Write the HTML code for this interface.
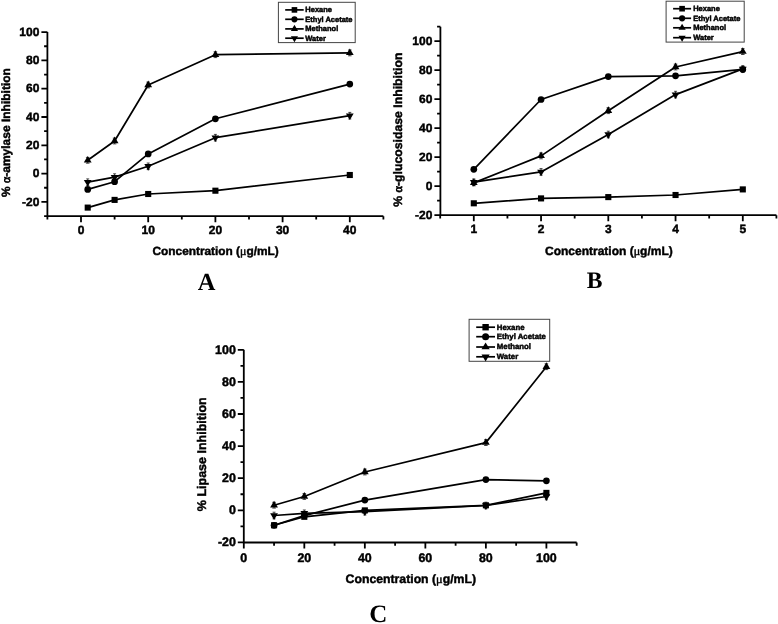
<!DOCTYPE html>
<html lang="en"><head><meta charset="utf-8"><title>Enzyme inhibition</title>
<style>
html,body{margin:0;padding:0;background:#fff}
svg{display:block}
text{font-family:"Liberation Sans",Arial,sans-serif;font-weight:bold;fill:#000;stroke:#000;stroke-width:.45px;text-rendering:geometricPrecision}
.tk{font-size:12px}
.al{font-size:12px}
.lg{font-size:7px}
.sym{font-family:"Liberation Serif","DejaVu Serif",serif;font-weight:normal}
.sa{stroke-width:.7px}
.sym.mu{stroke-width:.45px}
.lt{font-family:"Liberation Serif",serif;font-weight:bold;font-size:23.5px;stroke:none}
</style></head><body>
<svg width="778" height="624" viewBox="0 0 778 624">
<rect width="778" height="624" fill="#fff"/>
<path d="M47.4 32.1V216.2H383.4" fill="none" stroke="#000" stroke-width="1.8" stroke-linejoin="miter"/>
<path d="M47.4 216.05h-3.3M47.4 201.9h-6.0M47.4 187.75h-3.3M47.4 173.6h-6.0M47.4 159.45h-3.3M47.4 145.3h-6.0M47.4 131.15h-3.3M47.4 117h-6.0M47.4 102.85h-3.3M47.4 88.7h-6.0M47.4 74.55h-3.3M47.4 60.4h-6.0M47.4 46.25h-3.3M47.4 32.1h-6.0M47.4 216.2v3.3M81 216.2v6.0M114.6 216.2v3.3M148.2 216.2v6.0M181.8 216.2v3.3M215.4 216.2v6.0M249 216.2v3.3M282.6 216.2v6.0M316.2 216.2v3.3M349.8 216.2v6.0M383.4 216.2v3.3" fill="none" stroke="#000" stroke-width="1.8"/>
<g class="tk" text-anchor="end" style="font-size:12px">
<text x="39.4" y="205.6">-20</text>
<text x="39.4" y="177.3">0</text>
<text x="39.4" y="149">20</text>
<text x="39.4" y="120.7">40</text>
<text x="39.4" y="92.4">60</text>
<text x="39.4" y="64.1">80</text>
<text x="39.4" y="35.8">100</text>
</g><g class="tk" text-anchor="middle" style="font-size:12px">
<text x="81" y="234">0</text>
<text x="148.2" y="234">10</text>
<text x="215.4" y="234">20</text>
<text x="282.6" y="234">30</text>
<text x="349.8" y="234">40</text>
</g>
<path d="M87.72 207.6L114.6 199.9L148.2 194L215.4 190.7L349.8 175" fill="none" stroke="#000" stroke-width="1.7" stroke-linejoin="round"/>
<g><rect x="84.67" y="204.55" width="6.1" height="6.1"/><rect x="111.55" y="196.85" width="6.1" height="6.1"/><rect x="145.15" y="190.95" width="6.1" height="6.1"/><rect x="212.35" y="187.65" width="6.1" height="6.1"/><rect x="346.75" y="171.95" width="6.1" height="6.1"/></g>
<path d="M87.72 189.4L114.6 181.7L148.2 153.9L215.4 118.8L349.8 84.1" fill="none" stroke="#000" stroke-width="1.7" stroke-linejoin="round"/>
<g><circle cx="87.72" cy="189.4" r="3.35"/><circle cx="114.6" cy="181.7" r="3.35"/><circle cx="148.2" cy="153.9" r="3.35"/><circle cx="215.4" cy="118.8" r="3.35"/><circle cx="349.8" cy="84.1" r="3.35"/></g>
<path d="M87.72 160.3L114.6 141L148.2 85L215.4 54.7L349.8 52.9" fill="none" stroke="#000" stroke-width="1.7" stroke-linejoin="round"/>
<g><polygon points="83.82,162.5 91.62,162.5 87.72,155.9"/><polygon points="110.7,143.2 118.5,143.2 114.6,136.6"/><polygon points="144.3,87.2 152.1,87.2 148.2,80.6"/><polygon points="211.5,56.9 219.3,56.9 215.4,50.3"/><polygon points="345.9,55.1 353.7,55.1 349.8,48.5"/></g>
<path d="M87.72 157.4V163.2M85.92 157.4h3.6M85.92 163.2h3.6M114.6 138.1V143.9M112.8 138.1h3.6M112.8 143.9h3.6M148.2 82.1V87.9M146.4 82.1h3.6M146.4 87.9h3.6M215.4 51.8V57.6M213.6 51.8h3.6M213.6 57.6h3.6M349.8 50V55.8M348 50h3.6M348 55.8h3.6" fill="none" stroke="#000" stroke-width="0.7"/>
<path d="M87.72 182.2L114.6 177.1L148.2 166.3L215.4 137.7L349.8 115.7" fill="none" stroke="#000" stroke-width="1.7" stroke-linejoin="round"/>
<g><polygon points="83.82,180 91.62,180 87.72,186.6"/><polygon points="110.7,174.9 118.5,174.9 114.6,181.5"/><polygon points="144.3,164.1 152.1,164.1 148.2,170.7"/><polygon points="211.5,135.5 219.3,135.5 215.4,142.1"/><polygon points="345.9,113.5 353.7,113.5 349.8,120.1"/></g>
<path d="M87.72 178.9V185.5M86.22 178.9h3M86.22 185.5h3M114.6 173.8V180.4M113.1 173.8h3M113.1 180.4h3M148.2 163V169.6M146.7 163h3M146.7 169.6h3M215.4 134.4V141M213.9 134.4h3M213.9 141h3M349.8 112.4V119M348.3 112.4h3M348.3 119h3" fill="none" stroke="#000" stroke-width="0.7"/>
<rect x="278.4" y="2.3" width="76.8" height="40.3" fill="#fff" stroke="#444" stroke-width="1"/>
<path d="M285.2 9.9H303.7" stroke="#000" stroke-width="1.7"/>
<rect x="291.64" y="7.09" width="5.61" height="5.61"/>
<text class="lg" x="305.3" y="12.25" style="font-size:7.5px">Hexane</text>
<path d="M285.2 19.3H303.7" stroke="#000" stroke-width="1.7"/>
<circle cx="294.45" cy="19.3" r="3.08"/>
<text class="lg" x="305.3" y="21.65" style="font-size:7.5px">Ethyl Acetate</text>
<path d="M285.2 28.9H303.7" stroke="#000" stroke-width="1.7"/>
<polygon points="290.86,30.92 298.04,30.92 294.45,24.85"/>
<text class="lg" x="305.3" y="31.25" style="font-size:7.5px">Methanol</text>
<path d="M285.2 38.2H303.7" stroke="#000" stroke-width="1.7"/>
<polygon points="290.86,36.18 298.04,36.18 294.45,42.25"/>
<text class="lg" x="305.3" y="40.55" style="font-size:7.5px">Water</text>
<text class="al" text-anchor="middle" style="font-size:11.85px" x="215.6" y="254.6">Concentration (<tspan class="sym mu">μ</tspan>g/mL)</text>
<text class="al" text-anchor="middle" style="font-size:12px" transform="translate(10 132.6) rotate(-90)">% <tspan class="sym sa">α</tspan>-amylase Inhibition</text>
<text class="lt" text-anchor="middle" style="font-size:24.5px" x="206.6" y="290">A</text>
<path d="M440.4 26.71V215.15H776.42" fill="none" stroke="#000" stroke-width="1.8" stroke-linejoin="miter"/>
<path d="M440.4 215.08h-6.0M440.4 200.59h-3.3M440.4 186.1h-6.0M440.4 171.61h-3.3M440.4 157.12h-6.0M440.4 142.63h-3.3M440.4 128.14h-6.0M440.4 113.65h-3.3M440.4 99.16h-6.0M440.4 84.67h-3.3M440.4 70.18h-6.0M440.4 55.69h-3.3M440.4 41.2h-6.0M440.4 26.71h-3.3M440.18 215.15v3.3M473.8 215.15v6.0M507.43 215.15v3.3M541.05 215.15v6.0M574.67 215.15v3.3M608.3 215.15v6.0M641.92 215.15v3.3M675.55 215.15v6.0M709.17 215.15v3.3M742.8 215.15v6.0M776.42 215.15v3.3" fill="none" stroke="#000" stroke-width="1.8"/>
<g class="tk" text-anchor="end" style="font-size:12px">
<text x="432.4" y="218.78">-20</text>
<text x="432.4" y="189.8">0</text>
<text x="432.4" y="160.82">20</text>
<text x="432.4" y="131.84">40</text>
<text x="432.4" y="102.86">60</text>
<text x="432.4" y="73.88">80</text>
<text x="432.4" y="44.9">100</text>
</g><g class="tk" text-anchor="middle" style="font-size:12px">
<text x="473.8" y="232.95">1</text>
<text x="541.05" y="232.95">2</text>
<text x="608.3" y="232.95">3</text>
<text x="675.55" y="232.95">4</text>
<text x="742.8" y="232.95">5</text>
</g>
<path d="M473.8 203.3L541.05 198.4L608.3 197.1L675.55 195L742.8 189.4" fill="none" stroke="#000" stroke-width="1.7" stroke-linejoin="round"/>
<g><rect x="470.75" y="200.25" width="6.1" height="6.1"/><rect x="538" y="195.35" width="6.1" height="6.1"/><rect x="605.25" y="194.05" width="6.1" height="6.1"/><rect x="672.5" y="191.95" width="6.1" height="6.1"/><rect x="739.75" y="186.35" width="6.1" height="6.1"/></g>
<path d="M473.8 169.3L541.05 99.5L608.3 76.6L675.55 75.8L742.8 69.4" fill="none" stroke="#000" stroke-width="1.7" stroke-linejoin="round"/>
<g><circle cx="473.8" cy="169.3" r="3.35"/><circle cx="541.05" cy="99.5" r="3.35"/><circle cx="608.3" cy="76.6" r="3.35"/><circle cx="675.55" cy="75.8" r="3.35"/><circle cx="742.8" cy="69.4" r="3.35"/></g>
<path d="M473.8 182.9L541.05 155.9L608.3 110.7L675.55 67L742.8 51.6" fill="none" stroke="#000" stroke-width="1.7" stroke-linejoin="round"/>
<g><polygon points="469.9,185.1 477.7,185.1 473.8,178.5"/><polygon points="537.15,158.1 544.95,158.1 541.05,151.5"/><polygon points="604.4,112.9 612.2,112.9 608.3,106.3"/><polygon points="671.65,69.2 679.45,69.2 675.55,62.6"/><polygon points="738.9,53.8 746.7,53.8 742.8,47.2"/></g>
<path d="M473.8 180V185.8M472 180h3.6M472 185.8h3.6M541.05 153V158.8M539.25 153h3.6M539.25 158.8h3.6M608.3 107.8V113.6M606.5 107.8h3.6M606.5 113.6h3.6M675.55 64.1V69.9M673.75 64.1h3.6M673.75 69.9h3.6M742.8 48.7V54.5M741 48.7h3.6M741 54.5h3.6" fill="none" stroke="#000" stroke-width="0.7"/>
<path d="M473.8 182.2L541.05 171.9L608.3 134.5L675.55 94.6L742.8 68.9" fill="none" stroke="#000" stroke-width="1.7" stroke-linejoin="round"/>
<g><polygon points="469.9,180 477.7,180 473.8,186.6"/><polygon points="537.15,169.7 544.95,169.7 541.05,176.3"/><polygon points="604.4,132.3 612.2,132.3 608.3,138.9"/><polygon points="671.65,92.4 679.45,92.4 675.55,99"/><polygon points="738.9,66.7 746.7,66.7 742.8,73.3"/></g>
<path d="M473.8 178.9V185.5M472.3 178.9h3M472.3 185.5h3M541.05 168.6V175.2M539.55 168.6h3M539.55 175.2h3M608.3 131.2V137.8M606.8 131.2h3M606.8 137.8h3M675.55 91.3V97.9M674.05 91.3h3M674.05 97.9h3M742.8 65.6V72.2M741.3 65.6h3M741.3 72.2h3" fill="none" stroke="#000" stroke-width="0.7"/>
<rect x="666.1" y="1.2" width="78.1" height="40.9" fill="#fff" stroke="#444" stroke-width="1"/>
<path d="M673.1 8.7H691.1" stroke="#000" stroke-width="1.7"/>
<rect x="679.29" y="5.89" width="5.61" height="5.61"/>
<text class="lg" x="693.2" y="11.05" style="font-size:7.5px">Hexane</text>
<path d="M673.1 18.3H691.1" stroke="#000" stroke-width="1.7"/>
<circle cx="682.1" cy="18.3" r="3.08"/>
<text class="lg" x="693.2" y="20.65" style="font-size:7.5px">Ethyl Acetate</text>
<path d="M673.1 27.8H691.1" stroke="#000" stroke-width="1.7"/>
<polygon points="678.51,29.82 685.69,29.82 682.1,23.75"/>
<text class="lg" x="693.2" y="30.15" style="font-size:7.5px">Methanol</text>
<path d="M673.1 37.7H691.1" stroke="#000" stroke-width="1.7"/>
<polygon points="678.51,35.68 685.69,35.68 682.1,41.75"/>
<text class="lg" x="693.2" y="40.05" style="font-size:7.5px">Water</text>
<text class="al" text-anchor="middle" style="font-size:12px" x="608.9" y="254.5">Concentration (<tspan class="sym mu">μ</tspan>g/mL)</text>
<text class="al" text-anchor="middle" style="font-size:12.25px" transform="translate(402.4 129.65) rotate(-90)">% <tspan class="sym sa">α</tspan>-glucosidase Inhibition</text>
<text class="lt" text-anchor="middle" style="font-size:23.6px" x="594.6" y="288">B</text>
<path d="M243.8 349.8V542.5H576.66" fill="none" stroke="#000" stroke-width="1.8" stroke-linejoin="miter"/>
<path d="M243.8 542.4h-6.0M243.8 526.35h-3.3M243.8 510.3h-6.0M243.8 494.25h-3.3M243.8 478.2h-6.0M243.8 462.15h-3.3M243.8 446.1h-6.0M243.8 430.05h-3.3M243.8 414h-6.0M243.8 397.95h-3.3M243.8 381.9h-6.0M243.8 365.85h-3.3M243.8 349.8h-6.0M243.8 542.5v6.0M274.06 542.5v3.3M304.32 542.5v6.0M334.58 542.5v3.3M364.84 542.5v6.0M395.1 542.5v3.3M425.36 542.5v6.0M455.62 542.5v3.3M485.88 542.5v6.0M516.14 542.5v3.3M546.4 542.5v6.0M576.66 542.5v3.3" fill="none" stroke="#000" stroke-width="1.8"/>
<g class="tk" text-anchor="end" style="font-size:12.4px">
<text x="235.8" y="546.1">-20</text>
<text x="235.8" y="514">0</text>
<text x="235.8" y="481.9">20</text>
<text x="235.8" y="449.8">40</text>
<text x="235.8" y="417.7">60</text>
<text x="235.8" y="385.6">80</text>
<text x="235.8" y="353.5">100</text>
</g><g class="tk" text-anchor="middle" style="font-size:12.4px">
<text x="243.8" y="561.8">0</text>
<text x="304.32" y="561.8">20</text>
<text x="364.84" y="561.8">40</text>
<text x="425.36" y="561.8">60</text>
<text x="485.88" y="561.8">80</text>
<text x="546.4" y="561.8">100</text>
</g>
<path d="M274.06 525.3L304.32 516.8L364.84 510.4L485.88 505.3L546.4 492.9" fill="none" stroke="#000" stroke-width="1.7" stroke-linejoin="round"/>
<g><rect x="271.01" y="522.25" width="6.1" height="6.1"/><rect x="301.27" y="513.75" width="6.1" height="6.1"/><rect x="361.79" y="507.35" width="6.1" height="6.1"/><rect x="482.83" y="502.25" width="6.1" height="6.1"/><rect x="543.35" y="489.85" width="6.1" height="6.1"/></g>
<path d="M274.06 525.3L304.32 515.6L364.84 500.1L485.88 479.6L546.4 480.8" fill="none" stroke="#000" stroke-width="1.7" stroke-linejoin="round"/>
<g><circle cx="274.06" cy="525.3" r="3.35"/><circle cx="304.32" cy="515.6" r="3.35"/><circle cx="364.84" cy="500.1" r="3.35"/><circle cx="485.88" cy="479.6" r="3.35"/><circle cx="546.4" cy="480.8" r="3.35"/></g>
<path d="M274.06 505.2L304.32 496.5L364.84 472L485.88 442.6L546.4 366.7" fill="none" stroke="#000" stroke-width="1.7" stroke-linejoin="round"/>
<g><polygon points="270.16,507.4 277.96,507.4 274.06,500.8"/><polygon points="300.42,498.7 308.22,498.7 304.32,492.1"/><polygon points="360.94,474.2 368.74,474.2 364.84,467.6"/><polygon points="481.98,444.8 489.78,444.8 485.88,438.2"/><polygon points="542.5,368.9 550.3,368.9 546.4,362.3"/></g>
<path d="M274.06 502.3V508.1M272.26 502.3h3.6M272.26 508.1h3.6M304.32 493.6V499.4M302.52 493.6h3.6M302.52 499.4h3.6M364.84 469.1V474.9M363.04 469.1h3.6M363.04 474.9h3.6M485.88 439.7V445.5M484.08 439.7h3.6M484.08 445.5h3.6M546.4 363.8V369.6M544.6 363.8h3.6M544.6 369.6h3.6" fill="none" stroke="#000" stroke-width="0.7"/>
<path d="M274.06 515.5L304.32 513.3L364.84 511.7L485.88 505.5L546.4 496.5" fill="none" stroke="#000" stroke-width="1.7" stroke-linejoin="round"/>
<g><polygon points="270.16,513.3 277.96,513.3 274.06,519.9"/><polygon points="300.42,511.1 308.22,511.1 304.32,517.7"/><polygon points="360.94,509.5 368.74,509.5 364.84,516.1"/><polygon points="481.98,503.3 489.78,503.3 485.88,509.9"/><polygon points="542.5,494.3 550.3,494.3 546.4,500.9"/></g>
<path d="M274.06 512.2V518.8M272.56 512.2h3M272.56 518.8h3M304.32 510V516.6M302.82 510h3M302.82 516.6h3M364.84 508.4V515M363.34 508.4h3M363.34 515h3M485.88 502.2V508.8M484.38 502.2h3M484.38 508.8h3M546.4 493.2V499.8M544.9 493.2h3M544.9 499.8h3" fill="none" stroke="#000" stroke-width="0.7"/>
<rect x="469.1" y="319.3" width="80.6" height="42" fill="#fff" stroke="#444" stroke-width="1"/>
<path d="M476.2 327.2H495" stroke="#000" stroke-width="1.7"/>
<rect x="482.4" y="324" width="6.41" height="6.41"/>
<text class="lg" x="496.8" y="329.55" style="font-size:7.8px">Hexane</text>
<path d="M476.2 336.7H495" stroke="#000" stroke-width="1.7"/>
<circle cx="485.6" cy="336.7" r="3.52"/>
<text class="lg" x="496.8" y="339.05" style="font-size:7.8px">Ethyl Acetate</text>
<path d="M476.2 347H495" stroke="#000" stroke-width="1.7"/>
<polygon points="481.5,349.31 489.7,349.31 485.6,342.38"/>
<text class="lg" x="496.8" y="349.35" style="font-size:7.8px">Methanol</text>
<path d="M476.2 356.8H495" stroke="#000" stroke-width="1.7"/>
<polygon points="481.5,354.49 489.7,354.49 485.6,361.42"/>
<text class="lg" x="496.8" y="359.15" style="font-size:7.8px">Water</text>
<text class="al" text-anchor="middle" style="font-size:12.25px" x="410.8" y="583">Concentration (<tspan class="sym mu">μ</tspan>g/mL)</text>
<text class="al" text-anchor="middle" style="font-size:12.5px" transform="translate(205.5 454.25) rotate(-90)">% Lipase Inhibition</text>
<text class="lt" text-anchor="middle" style="font-size:25px" x="378.4" y="622.3">C</text>
</svg>
</body></html>
